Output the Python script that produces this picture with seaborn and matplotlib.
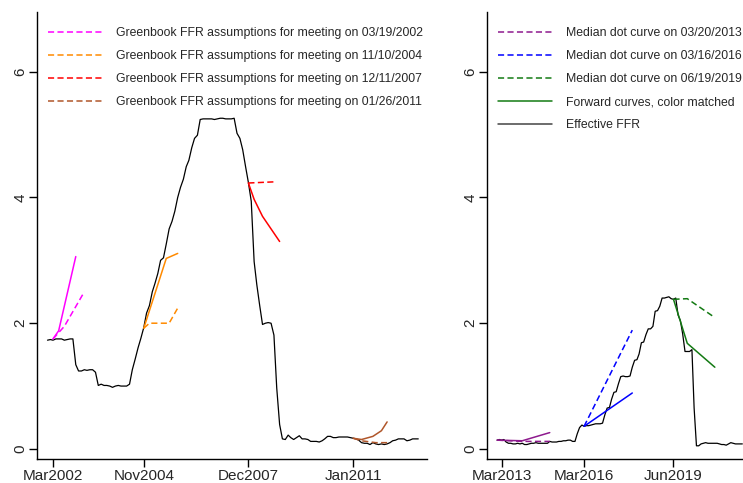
import pandas as pd
import seaborn as sns
import matplotlib.pyplot as plt
from matplotlib.lines import Line2D

sns.set_style("white")
plt.rcParams['font.family'] = ['Liberation Sans', 'DejaVu Sans']

# effective fed funds rate, monthly
effr_left = [1.73, 1.74, 1.73, 1.75, 1.75, 1.75, 1.73, 1.74, 1.75, 1.75, 1.34, 1.24,
             1.24, 1.26, 1.25, 1.26, 1.26, 1.22, 1.01, 1.03, 1.01, 1.01, 1.00, 0.98,
             1.00, 1.01, 1.00, 1.00, 1.00, 1.03, 1.26, 1.43, 1.61, 1.76, 1.93, 2.16,
             2.28, 2.50, 2.63, 2.79, 3.00, 3.04, 3.26, 3.50, 3.62, 3.78, 4.00, 4.16,
             4.29, 4.49, 4.59, 4.79, 4.94, 4.99, 5.24, 5.25, 5.25, 5.25, 5.25, 5.24,
             5.25, 5.26, 5.26, 5.25, 5.25, 5.25, 5.26, 5.02, 4.94, 4.76, 4.49, 4.24,
             3.94, 2.98, 2.61, 2.28, 1.98, 2.00, 2.01, 2.00, 1.81, 0.97, 0.39, 0.16,
             0.15, 0.22, 0.18, 0.15, 0.18, 0.21, 0.16, 0.16, 0.15, 0.12, 0.12, 0.12,
             0.11, 0.13, 0.16, 0.20, 0.20, 0.18, 0.18, 0.19, 0.19, 0.19, 0.19, 0.18,
             0.17, 0.16, 0.14, 0.10, 0.09, 0.09, 0.07, 0.10, 0.08, 0.07, 0.08, 0.07,
             0.08, 0.10, 0.13, 0.14, 0.16, 0.16, 0.16, 0.13, 0.14, 0.16, 0.16, 0.16]
effr_right = [0.14, 0.15, 0.14, 0.15, 0.11, 0.09, 0.09, 0.08, 0.08, 0.09, 0.08, 0.09,
              0.07, 0.07, 0.08, 0.09, 0.09, 0.10, 0.09, 0.09, 0.09, 0.09, 0.09, 0.12,
              0.11, 0.11, 0.11, 0.12, 0.12, 0.13, 0.13, 0.14, 0.14, 0.12, 0.12, 0.24,
              0.34, 0.38, 0.36, 0.37, 0.37, 0.38, 0.39, 0.40, 0.40, 0.40, 0.41, 0.54,
              0.65, 0.66, 0.79, 0.90, 0.91, 1.04, 1.15, 1.16, 1.15, 1.15, 1.16, 1.30,
              1.41, 1.42, 1.51, 1.69, 1.70, 1.82, 1.91, 1.91, 1.95, 2.19, 2.20, 2.27,
              2.40, 2.40, 2.41, 2.42, 2.39, 2.38, 2.40, 2.13, 2.04, 1.83, 1.55, 1.55,
              1.55, 1.58, 0.65, 0.05, 0.05, 0.08, 0.09, 0.10, 0.09, 0.09, 0.09, 0.09,
              0.09, 0.08, 0.07, 0.07, 0.06, 0.08, 0.10, 0.09, 0.08, 0.08, 0.08, 0.08]
dates_left = pd.date_range("2002-01-01", periods=len(effr_left), freq="MS")
dates_right = pd.date_range("2013-01-01", periods=len(effr_right), freq="MS")

# greenbook assumptions (dashed) and forward curves (solid), left panel
gb_labels = ["03/19/2002", "11/10/2004", "12/11/2007", "01/26/2011"]
gb_colors = ["#FF00FF", "#FF8A00", "#FF0000", "#B0562A"]
gb_dash_dates = [["2002-03", "2002-07", "2003-02"],
                 ["2004-11", "2005-01", "2005-08", "2005-11"],
                 ["2007-12", "2008-10"],
                 ["2011-01", "2011-04", "2011-09", "2012-01"]]
gb_dash_vals = [[1.75, 1.95, 2.50],
                [1.92, 2.00, 2.00, 2.24],
                [4.23, 4.25],
                [0.17, 0.13, 0.10, 0.10]]
gb_fwd_dates = [["2002-03", "2002-05", "2002-11"],
                ["2004-11", "2005-07", "2005-11"],
                ["2007-12", "2008-02", "2008-05", "2008-11"],
                ["2011-01", "2011-04", "2011-08", "2011-11", "2012-01"]]
gb_fwd_vals = [[1.75, 1.88, 3.06],
               [1.92, 3.03, 3.11],
               [4.23, 3.97, 3.70, 3.30],
               [0.17, 0.15, 0.20, 0.29, 0.43]]

# median dots (dashed) and forward curves (solid), right panel
dot_labels = ["03/20/2013", "03/16/2016", "06/19/2019"]
dot_colors = ["#8E1A8E", "#0000FF", "#137A13"]
dot_dash_dates = [["2013-01", "2013-12", "2014-12"],
                  ["2016-03", "2017-12"],
                  ["2019-06", "2019-12", "2020-12"]]
dot_dash_vals = [[0.14, 0.12, 0.12],
                 [0.36, 1.89],
                 [2.38, 2.39, 2.09]]
dot_fwd_dates = [["2013-01", "2013-12", "2014-12"],
                 ["2016-03", "2017-12"],
                 ["2019-06", "2019-12", "2020-12"]]
dot_fwd_vals = [[0.14, 0.13, 0.26],
                [0.36, 0.89],
                [2.38, 1.68, 1.30]]

left_ticks = ["2002-03", "2004-11", "2007-12", "2011-01"]
right_ticks = ["2013-03", "2016-03", "2019-06"]

fig = plt.figure(figsize=(7.43, 4.83), dpi=100)
ax1 = fig.add_axes([37 / 743, 24 / 483, 390 / 743, 447 / 483])
ax2 = fig.add_axes([487 / 743, 24 / 483, 256 / 743, 447 / 483])

dash = (4, 2.2)

sns.lineplot(x=dates_left, y=effr_left, ax=ax1, color="black", lw=0.9)
for c, dd, dv, fd, fv in zip(gb_colors, gb_dash_dates, gb_dash_vals, gb_fwd_dates, gb_fwd_vals):
    sns.lineplot(x=pd.to_datetime(fd), y=fv, ax=ax1, color=c, lw=1.1)
    sns.lineplot(x=pd.to_datetime(dd), y=dv, ax=ax1, color=c, lw=1.1, linestyle=(0, dash))

sns.lineplot(x=dates_right, y=effr_right, ax=ax2, color="black", lw=0.9)
for c, dd, dv, fd, fv in zip(dot_colors, dot_dash_dates, dot_dash_vals, dot_fwd_dates, dot_fwd_vals):
    sns.lineplot(x=pd.to_datetime(fd), y=fv, ax=ax2, color=c, lw=1.1)
    sns.lineplot(x=pd.to_datetime(dd), y=dv, ax=ax2, color=c, lw=1.1, linestyle=(0, dash))

h1 = [Line2D([], [], color=c, lw=1.1, linestyle=(0, dash)) for c in gb_colors]
l1 = ["Greenbook FFR assumptions for meeting on " + s for s in gb_labels]
h2 = [Line2D([], [], color=c, lw=1.1, linestyle=(0, dash)) for c in dot_colors]
h2 += [Line2D([], [], color=dot_colors[2], lw=1.1), Line2D([], [], color="#444444", lw=1.1)]
l2 = ["Median dot curve on " + s for s in dot_labels] + ["Forward curves, color matched", "Effective FFR"]

for ax, h, l in [(ax1, h1, l1), (ax2, h2, l2)]:
    ax.legend(h, l, loc="upper left", frameon=False, fontsize=8.8, handlelength=4.4,
              handletextpad=1.2, labelspacing=0.9, bbox_to_anchor=(0, 0.99))

ax1.set_xlim(pd.Timestamp("2001-09-10"), pd.Timestamp("2013-03-05"))
ax2.set_xlim(pd.Timestamp("2012-08-20"), pd.Timestamp("2021-12-10"))

for ax, ticks in [(ax1, left_ticks), (ax2, right_ticks)]:
    ax.set_ylim(-0.16, 6.95)
    ax.set_yticks([0, 2, 4, 6])
    ax.set_yticklabels(["0", "2", "4", "6"], rotation=90, va="center")
    t = pd.to_datetime(ticks)
    ax.set_xticks(t)
    ax.set_xticklabels([d.strftime("%b%Y") for d in t])
    ax.tick_params(axis="both", direction="out", length=6, width=1, labelsize=11,
                   color="black", pad=1, left=True, bottom=True)
    sns.despine(ax=ax)
    for sp in ["left", "bottom"]:
        ax.spines[sp].set_color("black")
        ax.spines[sp].set_linewidth(1)
    ax.set_xlabel("")
    ax.set_ylabel("")

fig.savefig("out.png", dpi=100)
